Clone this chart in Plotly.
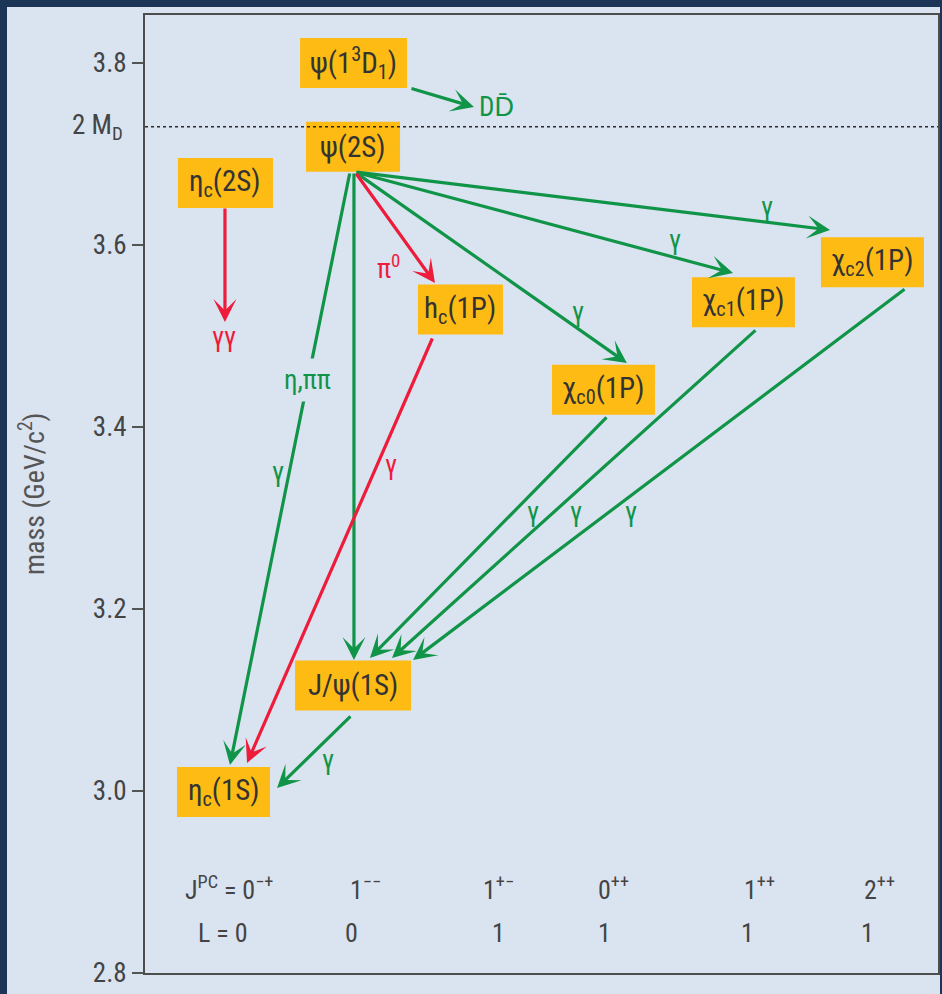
import plotly.graph_objects as go

# ---------------- data ----------------
# charmonium states: label, column position (x units), mass (GeV/c^2)
STATE_LABELS = ["η<sub>c</sub>(1S)", "J/ψ(1S)", "η<sub>c</sub>(2S)", "ψ(2S)",
                "ψ(1<sup>3</sup>D<sub>1</sub>)", "h<sub>c</sub>(1P)",
                "χ<sub>c0</sub>(1P)", "χ<sub>c1</sub>(1P)", "χ<sub>c2</sub>(1P)"]
STATE_X = [0.594, 1.574, 0.609, 1.574, 1.578, 2.387, 3.469, 4.528, 5.504]
STATE_MASS = [2.999, 3.116, 3.668, 3.708, 3.800, 3.529, 3.441, 3.537, 3.581]

# transitions: tail (x, mass) -> tip (x, mass), kind
ARROW_TAIL_X = [2.005, 0.605, 1.589, 1.589, 1.589, 1.589, 1.581, 1.551, 2.179, 3.503, 4.630, 5.758, 1.566]
ARROW_TAIL_M = [3.7725, 3.6418, 3.6802, 3.6802, 3.6802, 3.6802, 3.6802, 3.6802, 3.4989, 3.4121, 3.5077, 3.5527, 3.0835]
ARROW_TIP_X = [2.489, 0.605, 5.183, 4.449, 3.646, 2.194, 1.581, 0.643, 0.772, 1.702, 1.869, 2.028, 0.999]
ARROW_TIP_M = [3.7516, 3.5154, 3.6165, 3.5692, 3.4703, 3.5582, 3.1440, 3.0286, 3.0308, 3.1462, 3.1462, 3.1440, 3.0033]
ARROW_KIND = ["g", "r", "g", "g", "g", "r", "g", "g", "r", "g", "g", "g", "g"]

# transition labels
LABEL_TEXT = ["DD\u0304", "γγ", "γ", "γ", "γ", "π<sup>0</sup>", "γ", "γ", "γ", "γ", "γ", "γ"]
LABEL_X = [2.663, 0.598, 4.706, 4.010, 3.276, 1.839, 1.006, 1.861, 2.936, 3.261, 3.677, 1.385]
LABEL_M = [3.7516, 3.4989, 3.6418, 3.6055, 3.5264, 3.5758, 3.3505, 3.3582, 3.3066, 3.3066, 3.3066, 3.0341]
LABEL_KIND = ["g", "r", "g", "g", "g", "r", "g", "r", "g", "g", "g", "g"]
GAP_LABEL = ("η,ππ", 1.226, 3.4516)

# quantum numbers rows
JPC_TEXT = ["J<sup>PC</sup> = 0<sup>−+</sup>", "1<sup>−−</sup>", "1<sup>+−</sup>",
            "0<sup>++</sup>", "1<sup>++</sup>", "2<sup>++</sup>"]
JPC_X = [0.636, 1.672, 2.671, 3.548, 4.653, 5.561]
JPC_M = 2.893
L_TEXT = ["L = 0", "0", "1", "1", "1", "1"]
L_X = [0.590, 1.559, 2.671, 3.473, 4.562, 5.470]
L_M = 2.844

Y_TICKS = [2.8, 3.0, 3.2, 3.4, 3.6, 3.8]
TWO_MD = 3.73

# ---------------- style ----------------
BOX_W = [93, 116, 95, 94, 107, 85, 103, 103, 103]
BOX_H = 50
ORANGE = "#FDBB14"
GREEN = "#109447"
RED = "#EE1B3B"
PANEL = "#DAE3F0"
NAVY = "#1C3556"
FONT = "Liberation Sans Narrow, Roboto Condensed, Arial Narrow, Liberation Sans, sans-serif"
COL = {"g": GREEN, "r": RED}

W, H = 942, 994
ML, MR, MT, MB = 145, 4, 15, 21
PW = W - ML - MR
PH = H - MT - MB

fig = go.Figure()
fig.add_trace(go.Scatter(x=[None], y=[None], showlegend=False, hoverinfo="skip"))

shapes = []
# light panel over the dark frame
shapes.append(dict(type="rect", xref="paper", yref="paper",
                   x0=(7 - ML) / PW, x1=(940 - ML) / PW,
                   y0=-(MB + 5) / PH, y1=(H - MB - 7) / PH,
                   fillcolor=PANEL, line=dict(width=0), layer="below"))
# state boxes
for x, m, w in zip(STATE_X, STATE_MASS, BOX_W):
    shapes.append(dict(type="rect", xref="x", yref="y",
                       xsizemode="pixel", ysizemode="pixel",
                       xanchor=x, yanchor=m,
                       x0=-w / 2, x1=w / 2, y0=-BOX_H / 2, y1=BOX_H / 2,
                       fillcolor=ORANGE, line=dict(width=0), layer="above"))
# 2 M_D threshold
shapes.append(dict(type="line", xref="paper", yref="y", x0=0, x1=1, y0=TWO_MD, y1=TWO_MD,
                   line=dict(color="#2a2a2a", width=1.5, dash="dot"), layer="above"))

ann = []
# state labels
for lab, x, m in zip(STATE_LABELS, STATE_X, STATE_MASS):
    ann.append(dict(x=x, y=m, xref="x", yref="y", text=lab, showarrow=False,
                    font=dict(family=FONT, size=29, color="#333333"),
                    xanchor="center", yanchor="middle"))
# transitions
for tx, tm, hx, hm, k in zip(ARROW_TAIL_X, ARROW_TAIL_M, ARROW_TIP_X, ARROW_TIP_M, ARROW_KIND):
    ann.append(dict(x=hx, y=hm, ax=tx, ay=tm, xref="x", yref="y", axref="x", ayref="y",
                    text="", showarrow=True, arrowhead=3, arrowsize=1.2, arrowwidth=3.2,
                    arrowcolor=COL[k], standoff=0, startstandoff=0))
# transition labels
for t, x, m, k in zip(LABEL_TEXT, LABEL_X, LABEL_M, LABEL_KIND):
    ann.append(dict(x=x, y=m, xref="x", yref="y", text=t, showarrow=False,
                    font=dict(family=FONT, size=27, color=COL[k]),
                    xanchor="center", yanchor="middle"))
ann.append(dict(x=GAP_LABEL[1], y=GAP_LABEL[2], xref="x", yref="y", text=GAP_LABEL[0],
                showarrow=False, bgcolor=PANEL, borderpad=5,
                font=dict(family=FONT, size=27, color=GREEN), xanchor="center", yanchor="middle"))
# quantum numbers
for t, x in zip(JPC_TEXT, JPC_X):
    ann.append(dict(x=x, y=JPC_M, xref="x", yref="y", text=t, showarrow=False,
                    font=dict(family=FONT, size=26, color="#444444")))
for t, x in zip(L_TEXT, L_X):
    ann.append(dict(x=x, y=L_M, xref="x", yref="y", text=t, showarrow=False,
                    font=dict(family=FONT, size=26, color="#444444")))
# 2 M_D tick label
ann.append(dict(x=(125 - ML) / PW, y=TWO_MD, xref="paper", yref="y", text="2 M<sub>D</sub>",
                showarrow=False, xanchor="right", yanchor="middle",
                font=dict(family=FONT, size=27, color="#444444")))
# y title
ann.append(dict(x=(32 - ML) / PW, y=0.5, xref="paper", yref="paper",
                text="mass (GeV/c<sup>2</sup>)", textangle=-90, showarrow=False,
                xanchor="center", yanchor="middle",
                font=dict(family=FONT, size=28, color="#555555")))

fig.update_layout(
    width=W, height=H,
    margin=dict(l=ML, r=MR, t=MT, b=MB, autoexpand=False),
    paper_bgcolor=NAVY, plot_bgcolor=PANEL,
    shapes=shapes, annotations=ann, showlegend=False,
    xaxis=dict(range=[0, 6], showgrid=False, zeroline=False, showticklabels=False,
               ticks="", showline=True, mirror=True, linecolor="#4d4d4d", linewidth=2,
               fixedrange=True, automargin=False),
    yaxis=dict(range=[2.8, 2.8 + (3.8 - 2.8) * PH / 910], showgrid=False, zeroline=False,
               tickvals=Y_TICKS, ticktext=[f"{v:.1f}" for v in Y_TICKS],
               ticks="outside", ticklen=11, tickwidth=1.5, tickcolor="#555555",
               tickfont=dict(family=FONT, size=27, color="#444444"),
               showline=True, mirror=True, linecolor="#4d4d4d", linewidth=2,
               fixedrange=True, automargin=False),
)
POST = ("document.body.style.margin='0';document.body.style.padding='0';"
        "document.body.style.background='%s';"
        "document.documentElement.style.overflow='hidden';" % NAVY)
fig.write_html("out.html", post_script=POST, config={"displayModeBar": False})
